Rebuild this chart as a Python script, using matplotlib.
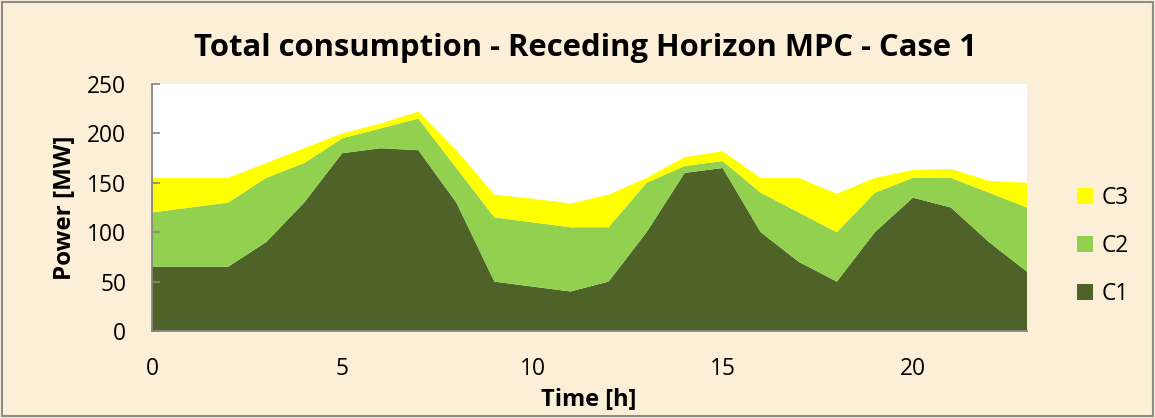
import matplotlib
matplotlib.use("Agg")
import matplotlib.pyplot as plt
from matplotlib.patches import Patch, Rectangle

# Hourly power consumption of the three consumers [MW]
hours = list(range(24))
c1 = [65, 65, 65, 90, 130, 180, 185, 183, 130, 50, 45, 40,
      50, 100, 160, 165, 100, 70, 50, 100, 135, 125, 90, 60]
c2 = [55, 60, 65, 65, 40, 15, 20, 32, 35, 65, 65, 65,
      55, 50, 7, 7, 40, 50, 50, 40, 20, 30, 50, 65]
c3 = [35, 30, 25, 15, 15, 5, 5, 7, 18, 23, 24, 24,
      33, 5, 9, 10, 15, 35, 39, 15, 8, 9, 12, 25]

series_names = ["C1", "C2", "C3"]
series_colors = ["#4F6228", "#92D050", "#FFFF00"]

title = "Total consumption - Receding Horizon MPC - Case 1"
x_ticks = [0, 5, 10, 15, 20]
y_ticks = [0, 50, 100, 150, 200, 250]

bg = "#FBEFD8"
axis_gray = "#868686"
fonts = ["Open Sans", "DejaVu Sans"]

fig = plt.figure(figsize=(11.55, 4.18), dpi=100, facecolor=bg)
ax = fig.add_axes([0.1316, 0.2081, 0.7576, 0.5909])
ax.set_facecolor("white")

ax.stackplot(hours, c1, c2, c3, colors=series_colors,
             labels=series_names, linewidth=0)

ax.set_xlim(0, 23)
ax.set_ylim(0, 250)
ax.set_xticks(x_ticks)
ax.set_yticks(y_ticks)

for s in ("top", "right"):
    ax.spines[s].set_visible(False)
for s in ("left", "bottom"):
    ax.spines[s].set_color(axis_gray)
    ax.spines[s].set_linewidth(1.3)
    ax.spines[s].set_zorder(5)

ax.tick_params(axis="y", direction="in", length=5.8, width=1.2,
               color=axis_gray, pad=18.5, labelsize=16.4)
ax.tick_params(axis="x", length=0, pad=19, labelsize=16.4)
for lab in ax.get_xticklabels() + ax.get_yticklabels():
    lab.set_family(fonts)

ax.set_axisbelow(False)

fig.text(0.507, 0.885, title, ha="center", va="center",
         fontsize=22.3, fontweight="bold", family=fonts)
fig.text(0.056, 0.503, "Power [MW]", ha="center", va="center",
         rotation=90, fontsize=17.5, fontweight="bold", family=fonts)
fig.text(0.510, 0.043, "Time [h]", ha="center", va="center",
         fontsize=17, fontweight="bold", family=fonts)

handles = [Patch(facecolor=series_colors[i], edgecolor="none", label=series_names[i])
           for i in (2, 1, 0)]
fig.legend(handles=handles, loc="center left",
           bbox_to_anchor=(0.9325, 0.411), frameon=False,
           borderpad=0, borderaxespad=0, handlelength=0.68,
           handleheight=0.68, handletextpad=0.4, labelspacing=1.05,
           prop={"family": fonts, "size": 16.4})

fig.patches.append(Rectangle((0.002, 0.004), 0.996, 0.992,
                             transform=fig.transFigure, fill=False,
                             edgecolor="#8c8c8c", linewidth=1.5))

fig.savefig("out.png", dpi=100, facecolor=bg)
